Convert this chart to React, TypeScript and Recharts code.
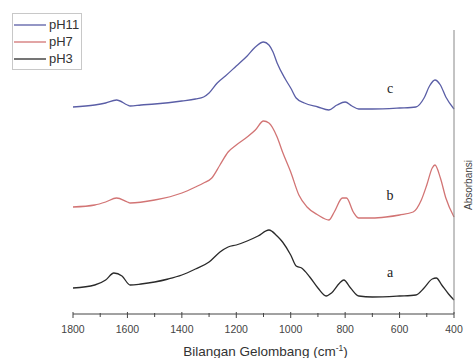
import React from 'react';
import { LineChart, Line, XAxis, YAxis, Legend, ReferenceDot } from 'recharts';

// Wavenumber (cm-1) sample positions and absorbance levels (arbitrary, offset) per spectrum
const WN_PH11 = [1800, 1720, 1680, 1640, 1600, 1590, 1550, 1500, 1400, 1350, 1320, 1300, 1270, 1240, 1200, 1160, 1130, 1100, 1080, 1065, 1050, 1020, 1000, 980, 950, 900, 860, 830, 800, 775, 750, 700, 600, 540, 510, 490, 470, 450, 430, 400];
const ABS_PH11 = [207, 209, 211, 214, 209, 208, 209, 210, 213, 215, 217, 221, 231, 238, 248, 258, 267, 272, 269, 262, 251, 235, 226, 216, 211, 207, 204, 209, 212, 208, 205, 205, 206, 207, 216, 228, 234, 229, 217, 205];

const WN_PH7 = [1800, 1720, 1680, 1640, 1600, 1590, 1500, 1400, 1350, 1320, 1290, 1260, 1230, 1200, 1160, 1130, 1100, 1080, 1050, 1030, 1000, 970, 940, 900, 860, 840, 810, 795, 770, 750, 700, 650, 600, 550, 520, 500, 480, 470, 450, 430, 400];
const ABS_PH7 = [107, 109, 112, 116, 112, 111, 114, 121, 127, 131, 136, 149, 162, 169, 177, 184, 193, 191, 177, 162, 142, 119, 107, 99, 94, 102, 116, 116, 102, 96, 96, 97, 99, 102, 114, 129, 146, 149, 136, 116, 97];

const WN_PH3 = [1800, 1720, 1680, 1650, 1620, 1590, 1550, 1500, 1450, 1400, 1350, 1300, 1260, 1230, 1200, 1160, 1120, 1080, 1050, 1030, 1000, 980, 960, 930, 900, 870, 850, 820, 805, 780, 750, 700, 600, 540, 510, 480, 465, 445, 420, 400];
const ABS_PH3 = [26, 29, 34, 41, 38, 29, 30, 32, 35, 39, 45, 52, 62, 67, 69, 73, 78, 84, 78, 72, 59, 48, 46, 37, 26, 18, 21, 31, 34, 26, 18, 17, 18, 19, 26, 35, 36, 29, 20, 14];

const SERIES_NAMES = ['pH11', 'pH7', 'pH3'];
const SERIES_COLORS = ['#5a5ea6', '#d27474', '#2a2a2a'];
const X_TICKS = [1800, 1700, 1600, 1500, 1400, 1300, 1200, 1100, 1000, 900, 800, 700, 600, 500, 400];
const MAJOR_TICKS = [1800, 1600, 1400, 1200, 1000, 800, 600, 400];
const CURVE_LABELS = ['c', 'b', 'a'];
const CURVE_LABEL_WN = 635;
const CURVE_LABEL_LEVELS = [226, 119, 42];

const toRows = (wn: number[], v: number[]) => wn.map((w, i) => ({ wn: w, abs: v[i] }));
const SERIES_DATA = [toRows(WN_PH11, ABS_PH11), toRows(WN_PH7, ABS_PH7), toRows(WN_PH3, ABS_PH3)];

const sans = '"Liberation Sans", Arial, sans-serif';

const XTick = (props: any) => {
  const { x, y, payload } = props;
  const major = MAJOR_TICKS.includes(payload.value);
  return (
    <g>
      <line x1={x} x2={x} y1={y - (major ? 2 : 1)} y2={y + (major ? 4 : 3)} stroke="#444" strokeWidth={1} />
      {major && (
        <text x={x} y={y + 19} textAnchor="middle" fontSize={10.5} fontFamily={sans} fill="#444">
          {payload.value}
        </text>
      )}
    </g>
  );
};

const LegendBox = () => (
  <div
    style={{
      border: '1px solid #c8c8c8',
      background: '#fff',
      padding: '2px 2px 2px 1px',
      fontFamily: sans,
      fontSize: 13,
      lineHeight: '17px',
      color: '#333',
    }}
  >
    {SERIES_NAMES.map((name, i) => (
      <div key={name} style={{ display: 'flex', alignItems: 'center' }}>
        <svg width={32} height={10}>
          <line x1={0} x2={32} y1={5} y2={5} stroke={SERIES_COLORS[i]} strokeWidth={1.3} />
        </svg>
        <span style={{ marginLeft: 3 }}>{name}</span>
      </div>
    ))}
  </div>
);

export default function App() {
  return (
    <div style={{ position: 'absolute', left: 0, top: 0, width: 474, height: 358, background: '#fff' }}>
      <LineChart width={474} height={358} margin={{ top: 30, right: 0, left: 73, bottom: 0 }}>
        <XAxis
          type="number"
          dataKey="wn"
          domain={[400, 1800]}
          reversed
          ticks={X_TICKS}
          interval={0}
          tickSize={0}
          tickMargin={0}
          tick={<XTick />}
          tickLine={false}
          axisLine={{ stroke: '#444' }}
          height={44}
          allowDuplicatedCategory={false}
          label={{
            content: (p: any) => {
              const vb = p.viewBox;
              return (
                <text x={vb.x + vb.width / 2 + 2} y={vb.y + 42} textAnchor="middle" fontSize={13.5} fontFamily={sans} fill="#333">
                  Bilangan Gelombang (cm
                  <tspan dy={-5} fontSize={8.5}>-1</tspan>
                  <tspan dy={5}>)</tspan>
                </text>
              );
            },
          }}
        />
        <YAxis
          orientation="right"
          type="number"
          domain={[0, 284]}
          allowDataOverflow
          tick={false}
          tickLine={false}
          axisLine={{ stroke: '#888' }}
          width={20}
          label={{
            content: (p: any) => {
              const vb = p.viewBox;
              const cx = vb.x + 14;
              const cy = 185;
              return (
                <text x={cx} y={cy} textAnchor="middle" dominantBaseline="central" fontSize={10} fontFamily={sans} fill="#444" transform={`rotate(-90, ${cx}, ${cy})`}>
                  Absorbansi
                </text>
              );
            },
          }}
        />
        <Legend
          layout="vertical"
          align="center"
          verticalAlign="middle"
          content={<LegendBox />}
          wrapperStyle={{ left: 12, top: 13, width: 'auto' }}
        />
        {SERIES_NAMES.map((name, i) => (
          <Line
            key={name}
            name={name}
            data={SERIES_DATA[i]}
            dataKey="abs"
            type="monotone"
            stroke={SERIES_COLORS[i]}
            strokeWidth={1.3}
            dot={false}
            isAnimationActive={false}
          />
        ))}
        {CURVE_LABELS.map((lab, i) => (
          <ReferenceDot
            key={lab}
            x={CURVE_LABEL_WN}
            y={CURVE_LABEL_LEVELS[i]}
            r={0}
            fill="none"
            stroke="none"
            label={{ value: lab, position: 'center', fontSize: 14, fontFamily: '"Liberation Serif", serif', fill: '#222' }}
          />
        ))}
      </LineChart>
    </div>
  );
}
